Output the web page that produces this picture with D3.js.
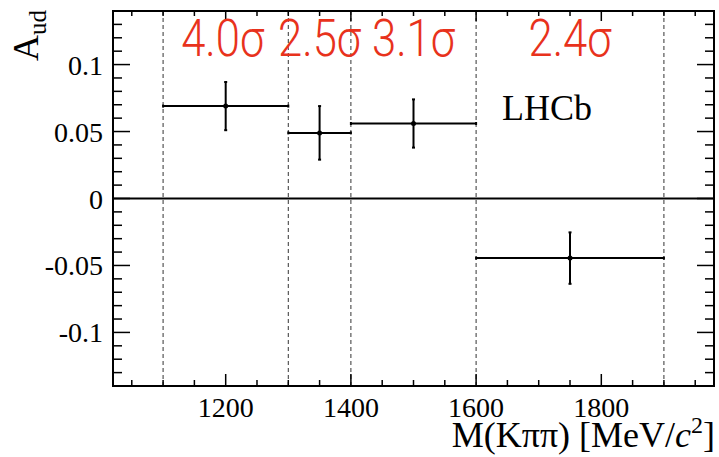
<!DOCTYPE html>
<html><head><meta charset="utf-8">
<script src="https://cdn.jsdelivr.net/npm/d3@7"></script>
<style>body{margin:0;background:#fff}svg{display:block}</style>
</head><body>
<script>
// data
const binLow = [1100, 1300, 1400, 1600];
const binHigh = [1300, 1400, 1600, 1900];
const centers = [1200, 1350, 1500, 1750];
const values = [0.069, 0.049, 0.056, -0.0445];
const errors = [0.018, 0.020, 0.018, 0.0192];
const sigLabels = ["4.0σ", "2.5σ", "3.1σ", "2.4σ"];
const dashedEdges = [1100, 1300, 1400, 1600, 1900];
const xTicks = [1200, 1400, 1600, 1800];
const yTicks = [-0.1, -0.05, 0, 0.05, 0.1];
const yTickLabels = ["-0.1", "-0.05", "0", "0.05", "0.1"];

const W = 719, H = 457;
const L = 113, R = 714, T = 11, B = 386;
const svg = d3.select("body").append("svg").attr("width", W).attr("height", H);
const x = d3.scaleLinear().domain([1020, 1980]).range([L, R]);
const y = d3.scaleLinear().domain([-0.14, 0.14]).range([B, T]);
const serif = "'Liberation Serif','Times New Roman',serif";

// dashed vertical lines
svg.append("g").selectAll("line").data(dashedEdges).join("line")
  .attr("x1", d => x(d)).attr("x2", d => x(d)).attr("y1", T).attr("y2", B)
  .attr("stroke", "#333").attr("stroke-width", 1).attr("stroke-dasharray", "4,3");

// zero line
svg.append("line").attr("x1", L).attr("x2", R).attr("y1", y(0)).attr("y2", y(0))
  .attr("stroke", "#000").attr("stroke-width", 2);

// ticks
const minorX = d3.range(1050, 1980, 50);
const minorY = d3.range(-13, 14).map(i => i / 100);
const tk = svg.append("g").attr("stroke", "#000").attr("stroke-width", 1.5);
minorX.forEach(v => {
  const major = xTicks.includes(v);
  const len = major ? 12 : 6;
  tk.append("line").attr("x1", x(v)).attr("x2", x(v)).attr("y1", B).attr("y2", B - len);
  tk.append("line").attr("x1", x(v)).attr("x2", x(v)).attr("y1", T).attr("y2", T + (major ? 10 : 5));
});
minorY.forEach(v => {
  const major = yTicks.some(t => Math.abs(t - v) < 1e-9);
  const len = major ? 17 : 9;
  tk.append("line").attr("x1", L).attr("x2", L + len).attr("y1", y(v)).attr("y2", y(v));
  tk.append("line").attr("x1", R).attr("x2", R - len).attr("y1", y(v)).attr("y2", y(v));
});

// frame
svg.append("rect").attr("x", L).attr("y", T).attr("width", R - L).attr("height", B - T)
  .attr("fill", "none").attr("stroke", "#000").attr("stroke-width", 2);

// tick labels
svg.append("g").selectAll("text").data(xTicks).join("text")
  .attr("x", d => x(d)).attr("y", 417).attr("text-anchor", "middle")
  .attr("font-family", serif).attr("font-size", 28).text(d => d);
svg.append("g").selectAll("text").data(yTicks).join("text")
  .attr("x", 103).attr("y", d => y(d) + 10).attr("text-anchor", "end")
  .attr("font-family", serif).attr("font-size", 28).text((d, i) => yTickLabels[i]);

// data points
const pts = svg.append("g").attr("stroke", "#000").attr("stroke-width", 2);
values.forEach((v, i) => {
  pts.append("line").attr("x1", x(binLow[i])).attr("x2", x(binHigh[i])).attr("y1", y(v)).attr("y2", y(v));
  pts.append("line").attr("x1", x(centers[i])).attr("x2", x(centers[i]))
    .attr("y1", y(v + errors[i])).attr("y2", y(v - errors[i]));
  pts.append("line").attr("x1", x(centers[i]) - 1.5).attr("x2", x(centers[i]) + 1.5)
    .attr("y1", y(v + errors[i])).attr("y2", y(v + errors[i]));
  pts.append("line").attr("x1", x(centers[i]) - 1.5).attr("x2", x(centers[i]) + 1.5)
    .attr("y1", y(v - errors[i])).attr("y2", y(v - errors[i]));
  pts.append("line").attr("x1", x(binLow[i])).attr("x2", x(binLow[i]))
    .attr("y1", y(v) - 1.5).attr("y2", y(v) + 1.5);
  pts.append("line").attr("x1", x(binHigh[i])).attr("x2", x(binHigh[i]))
    .attr("y1", y(v) - 1.5).attr("y2", y(v) + 1.5);
  svg.append("circle").attr("cx", x(centers[i])).attr("cy", y(v)).attr("r", 2.5).attr("fill", "#000");
});

// significance labels
svg.append("g").selectAll("text").data(sigLabels).join("text")
  .attr("x", (d, i) => x(centers[i]) - (i === 0 ? 3 : 0)).attr("y", 56)
  .attr("text-anchor", "middle").attr("font-family", "Roboto, 'DejaVu Sans', sans-serif")
  .attr("font-weight", 300).attr("font-size", 52).attr("fill", "#e8321c")
  .attr("textLength", 83).attr("lengthAdjust", "spacingAndGlyphs").text(d => d);

// LHCb
svg.append("text").attr("x", 502).attr("y", 120).attr("font-family", serif)
  .attr("font-size", 36).text("LHCb");

// axis titles
const xt = svg.append("text").attr("x", 715).attr("y", 447).attr("text-anchor", "end")
  .attr("font-family", serif).attr("font-size", 36);
xt.append("tspan").text("M(Kππ) [MeV/");
xt.append("tspan").attr("font-style", "italic").text("c");
xt.append("tspan").attr("font-size", 24).attr("dy", -14).text("2");
xt.append("tspan").attr("dy", 14).text("]");

const yt = svg.append("text").attr("transform", "translate(38,10) rotate(-90)")
  .attr("text-anchor", "end").attr("font-family", serif).attr("font-size", 36);
yt.append("tspan").text("A");
yt.append("tspan").attr("font-size", 25).attr("dy", 8).text("ud");
</script>
</body></html>
